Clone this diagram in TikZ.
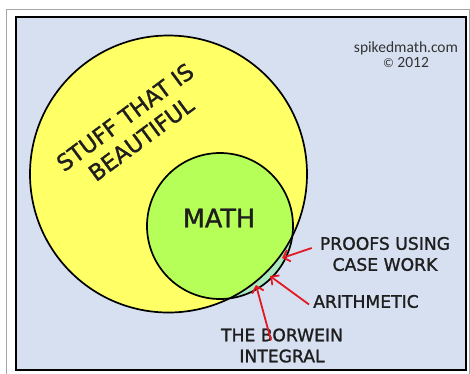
\documentclass[tikz,border=0pt]{standalone}
\usepackage{fontspec}
\setmainfont{DejaVu Sans}
\newfontfamily\comicfont[FakeBold=1.3]{DejaVu Sans}
\newfontfamily\credfont{Carlito}
\usetikzlibrary{arrows.meta}
\definecolor{panelbg}{RGB}{214,224,241}
\definecolor{beauty}{RGB}{255,255,102}
\definecolor{mathgreen}{RGB}{182,255,88}
\definecolor{mint}{RGB}{170,232,190}
\definecolor{arrowred}{RGB}{228,24,32}
\definecolor{inkgray}{RGB}{30,30,30}
\tikzset{
  comic/.style={text=inkgray, align=center, inner sep=0pt},
  lbl/.style={comic, font=\comicfont\fontsize{17.2}{21}\selectfont},
  redarrow/.style={draw=arrowred, line width=1.8pt, -{Straight Barb[length=6pt,width=12pt]}},
  outline/.style={draw=black, line width=1.7pt}
}
\begin{document}
\begin{tikzpicture}[x=1pt,y=-1pt]
\useasboundingbox (0,0) rectangle (470,373);
\fill[white] (0,0) rectangle (470,373);
% outer frame
\draw[gray!70, line width=1pt] (6.5,380) -- (6.5,9.5) -- (469.5,9.5) -- (469.5,380);
% panel
\draw[fill=panelbg, draw=black, line width=2pt] (16,17) rectangle (466,370);
% circles
\coordinate (ycen) at (168.5,174);
\coordinate (gcen) at (220,226);
\fill[beauty] (ycen) circle[radius=138.5pt];
\fill[mint] (gcen) circle[radius=73pt];
\begin{scope}
  \clip (ycen) circle[radius=138.5pt];
  \fill[mathgreen] (gcen) circle[radius=73pt];
\end{scope}
\draw[outline] (ycen) circle[radius=138.5pt];
\draw[outline] (gcen) circle[radius=73pt];
% texts
\node[comic, rotate=36.5, font=\comicfont\fontsize{22.5}{27}\selectfont] (beautiful) at (133,128) {STUFF THAT IS\\BEAUTIFUL};
\node[comic, font=\comicfont\fontsize{25.5}{30}\selectfont] (math) at (219,218) {MATH};
\node[lbl] (proofs) at (385,254) {PROOFS USING\\CASE WORK};
\node[lbl] (arith) at (366,301.5) {ARITHMETIC};
\node[lbl] (borwein) at (282,345.5) {THE BORWEIN\\INTEGRAL};
\node[text=black!80, align=center, inner sep=0pt, font=\credfont\fontsize{15.5}{15}\selectfont] (credit) at (406,55) {spikedmath.com\\{\fontsize{13}{15}\selectfont©} 2012};
% arrows
\coordinate (t1) at (282,258);
\coordinate (t2) at (270,276);
\coordinate (t3) at (256,285);
\draw[redarrow] ([xshift=-8pt,yshift=6pt]proofs.west) -- (t1);
\draw[redarrow] ([xshift=-4pt,yshift=-3pt]arith.west) -- (t2);
\draw[redarrow] ([xshift=-11pt,yshift=-12pt]borwein.north) -- (t3);
\end{tikzpicture}
\end{document}
